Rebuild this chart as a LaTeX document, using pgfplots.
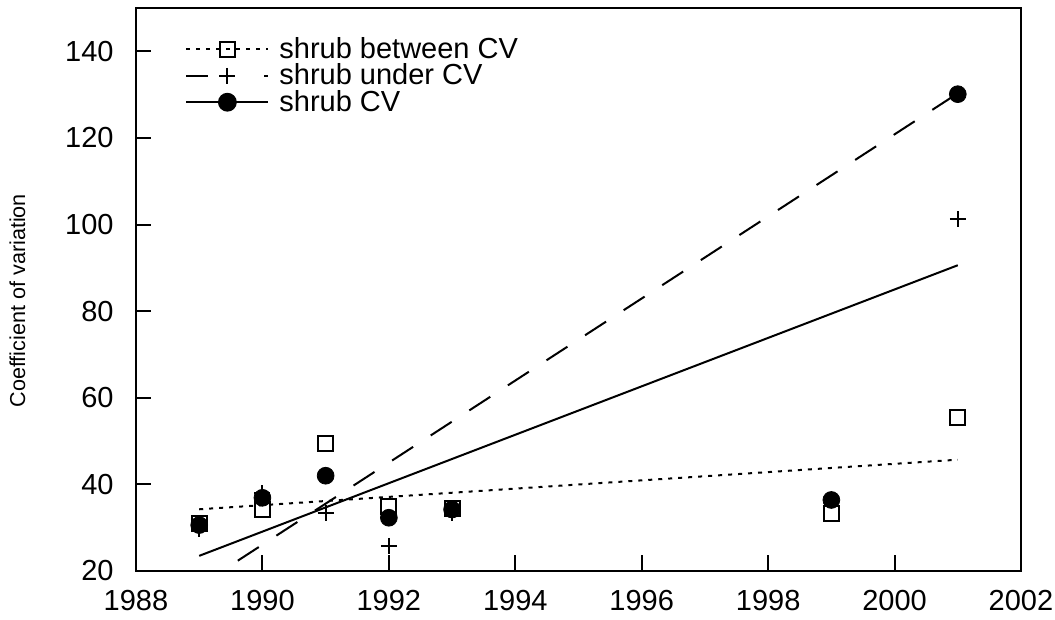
\documentclass[border=0pt]{standalone}
\usepackage{fontspec}
\setmainfont{Liberation Sans}
\usepackage{pgfplots}
\pgfplotsset{compat=1.18}
\begin{document}
\begin{tikzpicture}
\begin{axis}[
  at={(0,0)}, anchor=south west,
  scale only axis, width=442.5pt, height=281.5pt,
  xmin=1988, xmax=2002, ymin=20, ymax=150,
  xtick={1988,1990,...,2002}, ytick={20,40,...,140},
  tick pos=left, tick align=inside,
  major tick length=7.75pt,
  axis line style={line width=1pt},
  every tick/.style={line width=1pt, black},
  /pgf/number format/assume math mode=true,
  /pgf/number format/set thousands separator={},
  xticklabel style={font=\fontsize{14.5}{17}\selectfont, yshift=-6pt},
  yticklabel style={font=\fontsize{14.5}{17}\selectfont, xshift=-7.7pt},
  ylabel={Coefficient of variation},
  every axis y label/.style={at={(axis description cs:-0.1254,0.48)}, rotate=90, anchor=base, font=\fontsize{10.8}{13}\selectfont},
  legend style={at={(axis description cs:0,1)}, anchor=north west, xshift=24.5pt, yshift=-14.5pt,
    inner sep=0pt, draw=none, fill=none, font=\fontsize{14.5}{17}\selectfont,
    row sep=1.2pt, nodes={inner xsep=0pt, inner ysep=0pt},
    /tikz/every odd column/.style={column sep=5pt}},
  legend cell align=left,
  legend image code/.code={\draw[mark repeat=2,mark phase=2,#1] plot coordinates {(0pt,0pt) (20.5pt,0pt) (41pt,0pt)};},
]
\addlegendimage{black, line width=1pt, dash pattern=on 2pt off 3pt, mark=square, mark size=3.75pt, mark options={solid}}
\addlegendentry{shrub between CV}
\addlegendimage{black, line width=1pt, dash pattern=on 11pt off 28pt, mark=+, mark size=4pt, mark options={solid}}
\addlegendentry{shrub under CV}
\addlegendimage{black, line width=1pt, mark=*, mark size=4.2pt, mark options={solid}}
\addlegendentry{shrub CV}
% fitted lines
\addplot[forget plot, black, line width=1pt, dash pattern=on 2pt off 3pt] coordinates {(1989,34.25) (2001,45.7)};
\addplot[forget plot, black, line width=1pt, dash pattern=on 12.5pt off 10.5pt] coordinates {(1989,16.6) (2001,130.3)};
\addplot[forget plot, black, line width=1pt] coordinates {(1989,23.5) (2001,90.6)};
% data
\addplot[forget plot, only marks, black, line width=1pt, mark=square, mark size=3.75pt] coordinates {
(1989,31.0) (1990,34.1) (1991,49.5) (1992,35.0) (1993,34.4) (1999,33.2) (2001,55.4)};
\addplot[forget plot, only marks, black, line width=1pt, mark=+, mark size=4pt] coordinates {
(1989,29.8) (1990,38.0) (1991,33.3) (1992,25.8) (1993,33.3) (1999,36.4) (2001,101.2)};
\addplot[forget plot, only marks, black, mark=*, mark size=4.2pt] coordinates {
(1989,30.6) (1990,36.9) (1991,42.0) (1992,32.3) (1993,34.2) (1999,36.4) (2001,130.1)};
\end{axis}
\pgfresetboundingbox
\path[use as bounding box] (-68pt,-24.5pt) rectangle (459.5pt,285.5pt);
\end{tikzpicture}
\end{document}
